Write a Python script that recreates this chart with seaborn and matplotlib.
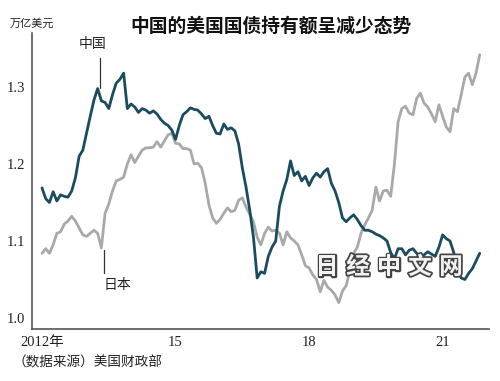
import matplotlib
matplotlib.use("Agg")
import matplotlib.pyplot as plt
import matplotlib.patheffects as pe
import seaborn as sns
import pandas as pd

# ---------------- data (monthly, Jan 2012 onward, trillion USD) ----------------
china = [1.169, 1.155, 1.150, 1.164, 1.152, 1.160, 1.158, 1.157, 1.165, 1.182,
         1.210, 1.218, 1.240, 1.262, 1.283, 1.298, 1.282, 1.280, 1.272, 1.290,
         1.305, 1.310, 1.318, 1.272, 1.278, 1.274, 1.267, 1.272, 1.270, 1.266,
         1.269, 1.265, 1.258, 1.253, 1.250, 1.244, 1.232, 1.250, 1.264, 1.268,
         1.273, 1.271, 1.270, 1.265, 1.259, 1.262, 1.250, 1.240, 1.239, 1.252,
         1.245, 1.247, 1.243, 1.226, 1.195, 1.170, 1.140, 1.105, 1.052, 1.060,
         1.058, 1.080, 1.092, 1.100, 1.145, 1.165, 1.180, 1.204, 1.185, 1.190,
         1.178, 1.184, 1.172, 1.182, 1.188, 1.183, 1.190, 1.194, 1.175, 1.165,
         1.150, 1.130, 1.125, 1.130, 1.134, 1.128, 1.120, 1.114, 1.114, 1.112,
         1.109, 1.107, 1.104, 1.100, 1.085, 1.077, 1.090, 1.090, 1.082, 1.088,
         1.090, 1.084, 1.080, 1.082, 1.086, 1.083, 1.080, 1.092, 1.108, 1.103,
         1.100, 1.085, 1.060, 1.052, 1.050, 1.058, 1.064, 1.074, 1.084]
japan = [1.084, 1.090, 1.084, 1.095, 1.110, 1.112, 1.122, 1.126, 1.132, 1.126,
         1.117, 1.108, 1.106, 1.110, 1.114, 1.110, 1.091, 1.136, 1.148, 1.165,
         1.178, 1.180, 1.183, 1.200, 1.212, 1.202, 1.210, 1.218, 1.221, 1.221,
         1.222, 1.229, 1.222, 1.230, 1.238, 1.240, 1.227, 1.226, 1.220, 1.220,
         1.218, 1.200, 1.201, 1.195, 1.175, 1.147, 1.130, 1.123, 1.128, 1.136,
         1.143, 1.138, 1.140, 1.153, 1.156, 1.144, 1.135, 1.125, 1.105, 1.095,
         1.110, 1.118, 1.113, 1.114, 1.110, 1.095, 1.112, 1.104, 1.100, 1.095,
         1.082, 1.068, 1.065, 1.056, 1.050, 1.034, 1.049, 1.040, 1.036, 1.030,
         1.020, 1.035, 1.042, 1.062, 1.084, 1.092, 1.110, 1.121, 1.130, 1.140,
         1.170, 1.152, 1.165, 1.166, 1.158, 1.200, 1.255, 1.272, 1.275, 1.266,
         1.264, 1.285, 1.292, 1.279, 1.274, 1.265, 1.255, 1.277, 1.262, 1.248,
         1.242, 1.272, 1.268, 1.290, 1.313, 1.318, 1.303, 1.318, 1.342]
series_names = ["中国", "日本"]
x_tick_labels = ["2012年", "15", "18", "21"]
y_ticks = [1.0, 1.1, 1.2, 1.3]
y_tick_labels = ["1.0", "1.1", "1.2", "1.3"]
title = "中国的美国国债持有额呈减少态势"
unit_label = "万亿美元"
source = "（数据来源）美国财政部"
watermark = "日经中文网"

# ---------------- build frame ----------------
n = len(china)
df = pd.DataFrame({
    "month": list(range(n)) + list(range(len(japan))),
    "value": china + japan,
    "country": [series_names[0]] * n + [series_names[1]] * len(japan),
})

sns.set_style("white")
plt.rcParams["font.family"] = ["Noto Sans CJK SC", "DejaVu Sans"]

fig = plt.figure(figsize=(5, 3.81), dpi=100)
ax = fig.add_axes([0.064, 0.1365, 0.914, 0.7765])

palette = {series_names[0]: "#1b4b5f", series_names[1]: "#a9a9a9"}
sns.lineplot(data=df, x="month", y="value", hue="country",
             hue_order=[series_names[1], series_names[0]],
             palette=palette, linewidth=2.0, legend=False, ax=ax)

ax.set_xlim(-2.7, 120.5)
ax.set_ylim(0.9857, 1.370)
ax.set_xlabel("")
ax.set_ylabel("")

ax.set_xticks([0, 36, 72, 108])
ax.set_xticklabels(x_tick_labels)
ax.set_yticks(y_ticks)
ax.set_yticklabels(y_tick_labels)

for s in ["top", "right"]:
    ax.spines[s].set_visible(False)
for s in ["left", "bottom"]:
    ax.spines[s].set_color("#555555")
    ax.spines[s].set_linewidth(1.2)

ax.tick_params(axis="x", direction="in", length=4, width=1, color="#555555",
               labelsize=10.5, labelcolor="#222222", pad=5)
ax.tick_params(axis="y", direction="inout", length=6, width=1, color="#555555",
               labelsize=10.5, labelcolor="#222222", pad=2)
for lab in ax.get_xticklabels() + ax.get_yticklabels():
    lab.set_fontfamily(["Liberation Serif", "Noto Sans CJK SC"])

# series labels with leader lines
ax.plot([15.6, 15.6], [1.299, 1.338], color="#333333", lw=0.9)
ax.text(13.6, 1.356, series_names[0], ha="center", va="center",
        fontsize=10, color="#222222")
ax.plot([16.7, 16.7], [1.058, 1.088], color="#333333", lw=0.9)
ax.text(16.6, 1.043, series_names[1], ha="left", va="center",
        fontsize=10, color="#222222")

# texts
fig.text(0.543, 0.932, title, ha="center", va="center", fontsize=13.5,
         fontweight="bold", color="#111111")
fig.text(0.02, 1 - 24 / 381, unit_label, ha="left", va="center",
         fontsize=8, color="#222222")
fig.text(0.024, 1 - 362 / 381, source, ha="left", va="center",
         fontsize=9.8, color="#222222")

# watermark
for i, ch in enumerate(watermark):
    fig.text((327 + 31 * i) / 500, 1 - 267 / 381, ch, ha="center", va="center",
             fontsize=17, fontweight="bold", color="#f2f2f2",
             path_effects=[pe.Stroke(linewidth=2.5, foreground="#444444"),
                           pe.Normal()])

fig.savefig("out.png", dpi=100)
